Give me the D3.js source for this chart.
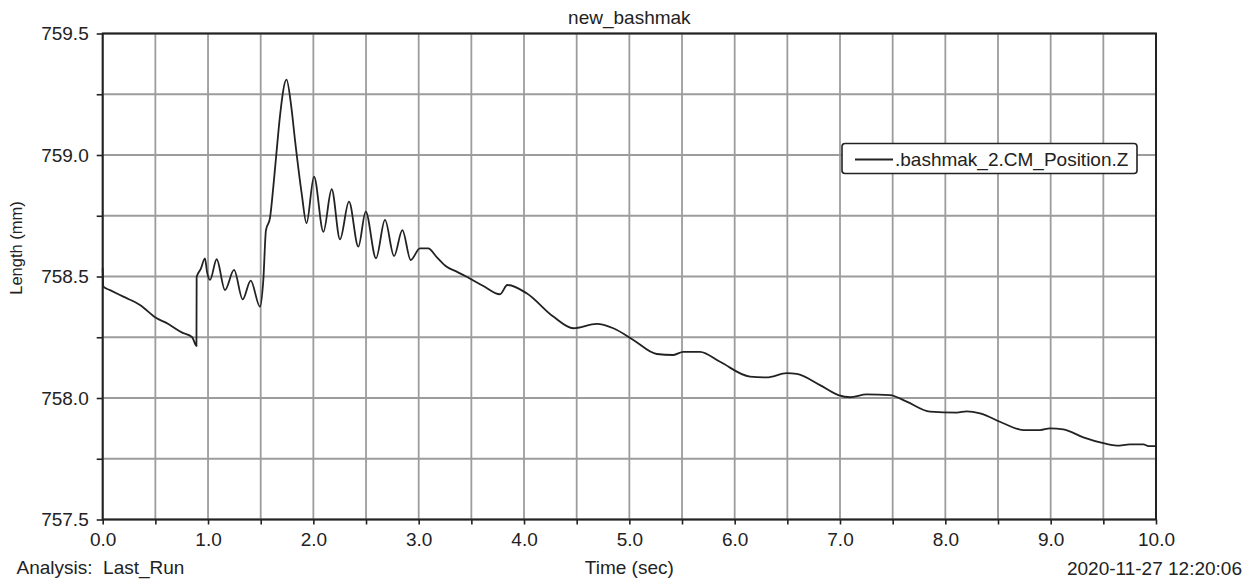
<!DOCTYPE html>
<html>
<head>
<meta charset="utf-8">
<script src="https://cdnjs.cloudflare.com/ajax/libs/d3/7.8.5/d3.min.js"></script>
<style>
	body { margin: 0; background: #fff; }
	text { font-family: "Liberation Sans", Arial, sans-serif; fill: #222; }
	.grid line { stroke: #9c9c9c; stroke-width: 1.8; }
	.axis .domain { display: none; }
	.axis .tick line { stroke: #222; stroke-width: 1.6; }
	.axis .tick text { font-size: 19px; fill: #222; }
</style>
</head>
<body>
<div id="chart"></div>
<script>
/* jshint esversion: 6 */

///////////////////////////////////////////////////////////////////////////////
//// Data /////////////////////////////////////////////////////////////////////
///////////////////////////////////////////////////////////////////////////////
const chartTitle = "new_bashmak";
const seriesName = ".bashmak_2.CM_Position.Z";

const timeSec = [
	0.0, 0.006, 0.07, 0.196, 0.354, 0.513, 0.6, 0.75, 0.85, 0.89,
	0.892, 0.93, 0.971, 0.99, 1.019, 1.082, 1.161, 1.247, 1.329, 1.405,
	1.493, 1.525, 1.55, 1.588, 1.62, 1.652, 1.683, 1.745, 1.79, 1.826,
	1.889, 1.935, 2.006, 2.095, 2.174, 2.253, 2.338, 2.427, 2.497, 2.595,
	2.68, 2.766, 2.845, 2.924, 3.012, 3.09, 3.171, 3.266, 3.36, 3.456,
	3.614, 3.772, 3.842, 4.025, 4.278, 4.468, 4.69, 4.848, 5.038, 5.26,
	5.417, 5.512, 5.671, 5.861, 6.145, 6.304, 6.494, 6.589, 6.81, 6.984,
	7.095, 7.253, 7.475, 7.633, 7.854, 8.108, 8.203, 8.33, 8.55, 8.74,
	8.899, 8.994, 9.12, 9.31, 9.5, 9.627, 9.753, 9.88, 9.93, 10.0
];

const lengthMm = [
	758.534, 758.458, 758.444, 758.417, 758.383, 758.328, 758.31, 758.27, 758.25, 758.215,
	758.499, 758.53, 758.575, 758.52, 758.486, 758.571, 758.444, 758.527, 758.406, 758.483,
	758.376, 758.486, 758.691, 758.74, 758.87, 759.02, 759.16, 759.31, 759.2, 759.06,
	758.842, 758.719, 758.911, 758.684, 758.859, 758.653, 758.808, 758.623, 758.767, 758.575,
	758.733, 758.584, 758.691, 758.568, 758.616, 758.616, 758.58, 758.54, 758.52, 758.499,
	758.461, 758.427, 758.465, 758.431, 758.335, 758.287, 758.305, 758.287, 758.239, 758.181,
	758.177, 758.19, 758.19, 758.149, 758.088, 758.085, 758.102, 758.099, 758.053, 758.012,
	758.003, 758.015, 758.012, 757.985, 757.944, 757.94, 757.945, 757.937, 757.896, 757.868,
	757.868, 757.875, 757.871, 757.838, 757.814, 757.804, 757.809, 757.809, 757.802, 757.802
];

const xTicks = d3.range(0, 10.01, 0.5);
const yTicks = d3.range(757.5, 759.51, 0.25);
const xLabel = "Time (sec)";
const yLabel = "Length (mm)";
const footLeft = "Analysis:\u00a0 Last_Run";
const footRight = "2020-11-27 12:20:06";

///////////////////////////////////////////////////////////////////////////////
//// Initial Set Up ///////////////////////////////////////////////////////////
///////////////////////////////////////////////////////////////////////////////
const margin = {top: 33.5, right: 98, bottom: 62.5, left: 102.7},
			width = 1254 - margin.left - margin.right,
			height = 582 - margin.top - margin.bottom;

const x = d3.scaleLinear().domain([0, 10]).range([0, width]);
const y = d3.scaleLinear().domain([757.5, 759.5]).range([height, 0]);

const svg = d3.select("#chart")
	.append("svg")
		.attr("width", 1254)
		.attr("height", 582);

const g = svg.append("g")
	.attr("transform", `translate(${margin.left}, ${margin.top})`);

///////////////////////////////////////////////////////////////////////////////
// Grid
g.append("g")
		.attr("class", "grid")
	.selectAll("line.v")
	.data(xTicks)
	.enter()
	.append("line")
		.attr("x1", d => x(d))
		.attr("x2", d => x(d))
		.attr("y1", 0)
		.attr("y2", height);

g.select(".grid")
	.selectAll("line.h")
	.data(yTicks)
	.enter()
	.append("line")
		.attr("x1", 0)
		.attr("x2", width)
		.attr("y1", d => y(d))
		.attr("y2", d => y(d));

///////////////////////////////////////////////////////////////////////////////
// Axes
g.append("g")
		.attr("class", "x axis")
		.attr("transform", `translate(0, ${height})`)
		.call(d3.axisBottom(x)
			.tickValues(xTicks)
			.tickSize(5)
			.tickPadding(8)
			.tickFormat(d => Math.abs(d % 1) < 1e-9 ? d3.format(".1f")(d) : ""));

g.append("g")
		.attr("class", "y axis")
		.call(d3.axisLeft(y)
			.tickValues(yTicks)
			.tickSize(6)
			.tickPadding(8)
			.tickFormat(d => Math.abs((d * 2) % 1) < 1e-9 ? d3.format(".1f")(d) : ""));

// Plot frame
g.append("rect")
		.attr("width", width)
		.attr("height", height)
		.attr("fill", "none")
		.attr("stroke", "#222")
		.attr("stroke-width", 2);

///////////////////////////////////////////////////////////////////////////////
// Line
const line = d3.line()
		.curve(d3.curveMonotoneX)
		.x((d, i) => x(timeSec[i]))
		.y(d => y(d));

g.append("path")
		.datum(lengthMm)
		.attr("fill", "none")
		.attr("stroke", "#222")
		.attr("stroke-width", 1.8)
		.attr("d", line);

///////////////////////////////////////////////////////////////////////////////
//// Legend ///////////////////////////////////////////////////////////////////
///////////////////////////////////////////////////////////////////////////////
const legendG = svg.append("g")
		.attr("transform", "translate(842, 143.5)");

legendG.append("rect")
		.attr("width", 295)
		.attr("height", 30)
		.attr("rx", 3)
		.attr("fill", "#fff")
		.attr("stroke", "#222")
		.attr("stroke-width", 1.6);

legendG.append("line")
		.attr("x1", 13)
		.attr("x2", 51)
		.attr("y1", 16)
		.attr("y2", 16)
		.attr("stroke", "#222")
		.attr("stroke-width", 2.2);

legendG.append("text")
		.attr("x", 53)
		.attr("y", 22)
		.style("font-size", "19px")
		.text(seriesName);

///////////////////////////////////////////////////////////////////////////////
//// Labels ///////////////////////////////////////////////////////////////////
///////////////////////////////////////////////////////////////////////////////
svg.append("text")
		.attr("x", margin.left + width / 2)
		.attr("y", 24)
		.attr("text-anchor", "middle")
		.style("font-size", "19px")
		.text(chartTitle);

svg.append("text")
		.attr("x", margin.left + width / 2)
		.attr("y", 574)
		.attr("text-anchor", "middle")
		.style("font-size", "19px")
		.text(xLabel);

svg.append("text")
		.attr("transform", "translate(22, 248) rotate(-90)")
		.attr("text-anchor", "middle")
		.style("font-size", "16.5px")
		.text(yLabel);

svg.append("text")
		.attr("x", 16.5)
		.attr("y", 574)
		.style("font-size", "19px")
		.text(footLeft);

svg.append("text")
		.attr("x", 1242)
		.attr("y", 575)
		.attr("text-anchor", "end")
		.style("font-size", "19px")
		.text(footRight);
</script>
</body>
</html>
